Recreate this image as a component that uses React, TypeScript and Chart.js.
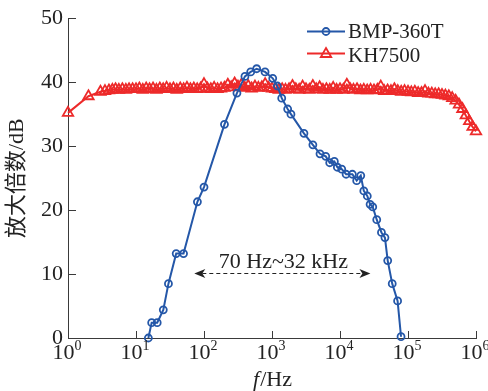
import React, { useEffect, useRef } from 'react';
import { Chart, registerables } from 'chart.js';

Chart.register(...registerables);

// ---- data ----
const bmpFreq = [15.2, 17, 20.5, 25.2, 30, 39, 50, 80, 100, 200, 305, 400, 486, 595, 790, 1025, 1200, 1390, 1700, 1900, 2950, 3990, 5080, 6170, 7060, 8260, 9140, 10600, 12300, 15200, 17600, 20200, 22400, 25200, 27700, 30300, 34700, 40700, 45800, 50300, 58600, 70300, 79000];
const bmpGain = [0, 2.4, 2.4, 4.4, 8.5, 13.2, 13.2, 21.3, 23.6, 33.4, 38.3, 40.9, 41.6, 42.1, 41.6, 40.6, 39.4, 37.5, 35.8, 35.0, 32.0, 30.2, 28.8, 28.4, 27.4, 27.6, 26.7, 26.4, 25.6, 25.6, 24.6, 25.4, 23.0, 22.2, 20.9, 20.5, 18.5, 16.5, 15.7, 12.1, 8.5, 5.8, 0.2];

const khFreq = [
  1, 2, 3, 3.5, 4, 4.5, 5, 5.6, 6.3, 7.1, 7.9, 8.9,
  10, 11.2, 12.6, 14.1, 15.8, 17.8, 20, 22.4, 25.1, 28.2, 31.6, 35.5, 39.8, 44.7, 50.1, 56.2, 63.1, 70.8, 79.4, 89.1,
  100, 112, 126, 141, 158, 178, 200, 224, 251, 282, 316, 355, 398, 447, 501, 562, 631, 708, 794, 891,
  1000, 1120, 1260, 1410, 1580, 1780, 2000, 2240, 2510, 2820, 3160, 3550, 3980, 4470, 5010, 5620, 6310, 7080, 7940, 8910,
  10000, 11200, 12600, 14100, 15800, 17800, 20000, 22400, 25100, 28200, 31600, 35500, 39800, 44700, 50100, 56200, 63100, 70800, 79400, 89100,
  100000, 112000, 126000, 141000, 158000, 178000, 200000, 224000, 251000, 282000, 316000, 355000, 398000, 447000, 501000, 562000, 631000, 708000, 794000, 891000, 1000000,
];
const khGain = [
  35.2, 37.8, 38.5, 38.6, 38.7, 38.8, 38.9, 38.8, 38.9, 38.8, 38.9, 38.9,
  38.9, 39.0, 38.8, 39.0, 38.9, 39.0, 38.8, 39.0, 38.9, 39.1, 38.9, 39.0, 38.8, 39.0, 38.9, 39.1, 38.9, 39.0, 38.9, 39.0,
  39.7, 39.0, 38.9, 39.1, 38.9, 39.0, 39.1, 39.6, 39.2, 39.8, 39.3, 39.6, 39.1, 39.4, 39.0, 39.3, 39.1, 39.2, 39.7, 39.1,
  39.0, 38.9, 38.8, 38.9, 38.8, 38.9, 39.4, 38.9, 38.8, 39.3, 38.9, 38.8, 39.4, 38.9, 39.2, 38.8, 38.9, 38.8, 39.1, 38.8,
  38.9, 38.8, 39.6, 38.9, 38.8, 38.9, 38.7, 38.8, 38.7, 38.8, 38.7, 38.8, 39.3, 38.6, 38.7, 38.6, 38.9, 38.6, 38.5, 38.6,
  38.5, 38.4, 38.5, 38.3, 38.3, 38.6, 38.2, 38.2, 38.1, 38.1, 38.0, 37.9, 37.8, 37.5, 37.1, 36.5, 35.8, 34.8, 33.9, 33.0, 32.3,
];

const xTickExponents = [0, 1, 2, 3, 4, 5, 6];
const yTickValues = [0, 10, 20, 30, 40, 50];
const seriesNames = ['BMP-360T', 'KH7500'];
const bandLabel = '70 Hz~32 kHz';
const bandStart = 72;
const bandEnd = 28000;
const bandLevel = 10.2;

const BLUE = '#2457a8';
const RED = '#ed2a2a';
const AXIS = '#3a3a3a';
const SERIF = "'Liberation Serif', 'Times New Roman', 'Noto Sans CJK SC', serif";

const overlay = {
  id: 'overlay',
  afterDraw(chart: any) {
    const ctx = chart.ctx as CanvasRenderingContext2D;
    const xs = chart.scales.x;
    const ys = chart.scales.y;
    const area = chart.chartArea;
    ctx.save();

    // inward tick marks
    ctx.strokeStyle = AXIS;
    ctx.lineWidth = 1;
    ctx.beginPath();
    for (const v of yTickValues) {
      const py = Math.round(ys.getPixelForValue(v)) + 0.5;
      ctx.moveTo(area.left, py);
      ctx.lineTo(area.left + 8, py);
    }
    for (const e of xTickExponents) {
      const px = Math.round(xs.getPixelForValue(Math.pow(10, e))) + 0.5;
      ctx.moveTo(px, area.bottom);
      ctx.lineTo(px, area.bottom - 7);
    }
    ctx.stroke();

    // x tick labels with superscripts
    ctx.fillStyle = '#222';
    ctx.textBaseline = 'alphabetic';
    ctx.textAlign = 'left';
    for (const e of xTickExponents) {
      const px = xs.getPixelForValue(Math.pow(10, e));
      ctx.font = `22px ${SERIF}`;
      const wMain = ctx.measureText('10').width;
      ctx.font = `14px ${SERIF}`;
      const sup = String(e);
      const wSup = ctx.measureText(sup).width;
      const start = px - (wMain + wSup) / 2 - 1;
      ctx.font = `22px ${SERIF}`;
      ctx.fillText('10', start, area.bottom + 21);
      ctx.font = `14px ${SERIF}`;
      ctx.fillText(sup, start + wMain, area.bottom + 12);
    }

    // x title: f/Hz
    ctx.font = `italic 22px ${SERIF}`;
    const wf = ctx.measureText('f').width;
    ctx.font = `22px ${SERIF}`;
    const wr = ctx.measureText('/Hz').width;
    const cx = (area.left + area.right) / 2;
    const sx = cx - (wf + wr) / 2;
    ctx.font = `italic 22px ${SERIF}`;
    ctx.fillText('f', sx, 386);
    ctx.font = `22px ${SERIF}`;
    ctx.fillText('/Hz', sx + wf + 1, 386);

    // y title
    ctx.save();
    ctx.translate(17, (area.top + area.bottom) / 2);
    ctx.rotate(-Math.PI / 2);
    ctx.textAlign = 'center';
    ctx.textBaseline = 'middle';
    ctx.font = `22px ${SERIF}`;
    ctx.fillText('放大倍数/dB', 0, 0);
    ctx.restore();

    // band annotation
    const x1 = xs.getPixelForValue(bandStart);
    const x2 = xs.getPixelForValue(bandEnd);
    const ay = Math.round(ys.getPixelForValue(bandLevel)) + 0.5;
    ctx.strokeStyle = '#222';
    ctx.fillStyle = '#222';
    ctx.lineWidth = 1;
    ctx.setLineDash([4, 3]);
    ctx.beginPath();
    ctx.moveTo(x1 + 8, ay);
    ctx.lineTo(x2 - 8, ay);
    ctx.stroke();
    ctx.setLineDash([]);
    const head = (tip: number, dir: number) => {
      ctx.beginPath();
      ctx.moveTo(tip, ay);
      ctx.lineTo(tip + dir * 11, ay - 4.5);
      ctx.lineTo(tip + dir * 8, ay);
      ctx.lineTo(tip + dir * 11, ay + 4.5);
      ctx.closePath();
      ctx.fill();
    };
    head(x1, 1);
    head(x2, -1);
    ctx.font = `22px ${SERIF}`;
    ctx.textAlign = 'center';
    ctx.textBaseline = 'alphabetic';
    ctx.fillText(bandLabel, (x1 + x2) / 2 + 1, ay - 5.5);

    // legend
    ctx.textAlign = 'left';
    ctx.lineWidth = 2;
    ctx.strokeStyle = BLUE;
    ctx.beginPath();
    ctx.moveTo(307, 31.5);
    ctx.lineTo(345, 31.5);
    ctx.stroke();
    ctx.lineWidth = 1.8;
    ctx.beginPath();
    ctx.arc(326, 31.5, 3.5, 0, Math.PI * 2);
    ctx.stroke();
    ctx.strokeStyle = RED;
    ctx.lineWidth = 2;
    ctx.beginPath();
    ctx.moveTo(307, 53.5);
    ctx.lineTo(345, 53.5);
    ctx.stroke();
    ctx.lineWidth = 1.8;
    const r = 6, tcx = 326, tcy = 54;
    ctx.beginPath();
    ctx.moveTo(tcx, tcy - r);
    ctx.lineTo(tcx + r * Math.sin((2 * Math.PI) / 3), tcy + r / 2);
    ctx.lineTo(tcx - r * Math.sin((2 * Math.PI) / 3), tcy + r / 2);
    ctx.closePath();
    ctx.stroke();
    ctx.fillStyle = '#222';
    ctx.font = `21px ${SERIF}`;
    ctx.fillText(seriesNames[0], 348, 37.5);
    ctx.fillText(seriesNames[1], 348, 61.5);

    ctx.restore();
  },
};

export default function App() {
  const ref = useRef<HTMLCanvasElement | null>(null);
  useEffect(() => {
    if (!ref.current) return;
    const chart = new Chart(ref.current, {
      type: 'line',
      data: {
        datasets: [
          {
            label: seriesNames[0],
            data: bmpFreq.map((f, i) => ({ x: f, y: bmpGain[i] })),
            borderColor: BLUE,
            borderWidth: 2,
            pointStyle: 'circle',
            pointRadius: 3.5,
            pointBorderWidth: 1.8,
            pointBorderColor: BLUE,
            pointBackgroundColor: 'rgba(0,0,0,0)',
            tension: 0,
            clip: false as any,
          },
          {
            label: seriesNames[1],
            data: khFreq.map((f, i) => ({ x: f, y: khGain[i] })),
            borderColor: RED,
            borderWidth: 2,
            pointStyle: 'triangle',
            pointRadius: 6,
            pointBorderWidth: 1.8,
            pointBorderColor: RED,
            pointBackgroundColor: 'rgba(0,0,0,0)',
            tension: 0,
            clip: false as any,
          },
        ],
      },
      options: {
        animation: false,
        responsive: true,
        maintainAspectRatio: false,
        layout: { padding: { left: 0, right: 12, top: 16, bottom: 0 } },
        plugins: { legend: { display: false }, tooltip: { enabled: false } },
        events: [],
        scales: {
          x: {
            type: 'logarithmic',
            min: 1,
            max: 1e6,
            afterBuildTicks: (scale: any) => {
              scale.ticks = xTickExponents.map((e) => ({ value: Math.pow(10, e) }));
            },
            afterFit: (scale: any) => {
              scale.height = 53;
            },
            grid: { display: false, drawTicks: false },
            border: { display: true, color: AXIS, width: 1 },
            ticks: { display: false },
          },
          y: {
            type: 'linear',
            min: 0,
            max: 50,
            afterBuildTicks: (scale: any) => {
              scale.ticks = yTickValues.map((v) => ({ value: v }));
            },
            afterFit: (scale: any) => {
              scale.width = 68;
            },
            grid: { display: false, drawTicks: false },
            border: { display: true, color: AXIS, width: 1 },
            ticks: {
              padding: 5,
              color: '#222',
              font: { family: SERIF, size: 22 },
              callback: (v: any) => String(v),
            },
          },
        },
      },
      plugins: [overlay],
    });
    return () => chart.destroy();
  }, []);
  return (
    <div style={{ position: 'fixed', left: 0, top: 0, width: 488, height: 391, background: '#fff' }}>
      <canvas ref={ref} />
    </div>
  );
}
